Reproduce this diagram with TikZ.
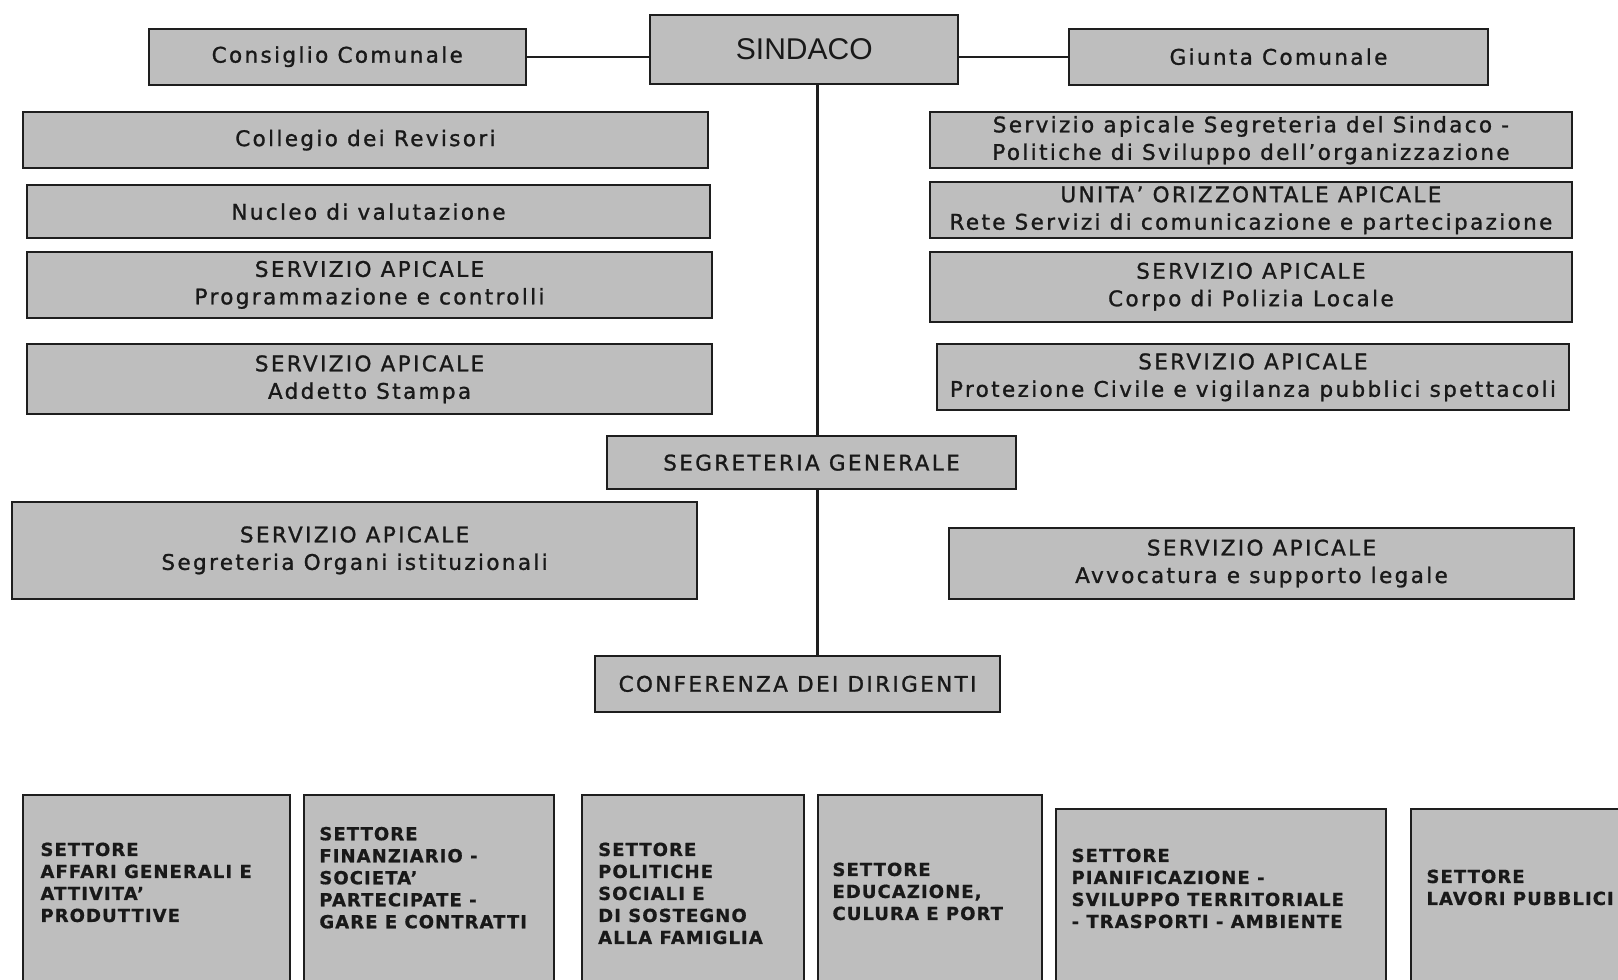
\documentclass[tikz,border=0pt]{standalone}
\usepackage{fontspec}
\newfontfamily\topf{DejaVu Sans}[LetterSpace=11, FakeBold=1.2]
\newfontfamily\botf{DejaVu Sans}[LetterSpace=6, FakeBold=0.8]
\newfontfamily\sindf{Liberation Sans}
\definecolor{boxfill}{RGB}{190,190,190}
\definecolor{boxline}{RGB}{30,30,30}
\definecolor{txt}{RGB}{25,25,25}
\begin{document}
\begin{tikzpicture}[x=1pt,y=-1pt,
  box/.style={draw=boxline, fill=boxfill, line width=2pt, inner sep=0pt, anchor=north west,
    align=center, text=txt, font=\topf\fontsize{21.5}{27.5}\selectfont},
  sbox/.style={draw=boxline, fill=boxfill, line width=2pt, inner sep=0pt, anchor=north west},
  stext/.style={inner sep=0pt, anchor=north west, align=left, text=txt,
    font=\botf\bfseries\fontsize{18}{22}\selectfont},
  conn/.style={draw=boxline, line width=2.2pt}]
\useasboundingbox (0,0) rectangle (1618,980);
\fill[white] (0,0) rectangle (1618,980);
\clip (0,0) rectangle (1618,980);

% top row
\node[box, minimum width=377.1pt, minimum height=56pt] (cons) at (147.7,27.7) {Consiglio Comunale};
\node[box, minimum width=308pt, minimum height=69.3pt, font=\sindf\fontsize{30}{34}\selectfont] (sind) at (649.3,14) {SINDACO};
\node[box, minimum width=419.4pt, minimum height=56pt] (giun) at (1067.8,27.7) {Giunta Comunale};

% left column
\node[box, minimum width=684.4pt, minimum height=55.7pt] (coll) at (22.2,111.3) {Collegio dei Revisori};
\node[box, minimum width=683.4pt, minimum height=52.7pt] (nucl) at (25.8,184.3) {Nucleo di valutazione};
\node[box, minimum width=685.5pt, minimum height=66.3pt] (prog) at (25.8,250.7) {SERVIZIO APICALE\\Programmazione e controlli};
\node[box, minimum width=685.5pt, minimum height=70pt] (adde) at (25.8,343.3) {SERVIZIO APICALE\\Addetto Stampa};

% right column
\node[box, minimum width=642pt, minimum height=55.7pt] (ssin) at (928.9,111.3) {Servizio apicale Segreteria del Sindaco -\\Politiche di Sviluppo dell’organizzazione};
\node[box, minimum width=642pt, minimum height=56.3pt] (unit) at (928.9,181) {UNITA’ ORIZZONTALE APICALE\\Rete Servizi di comunicazione e partecipazione};
\node[box, minimum width=642pt, minimum height=70pt] (poli) at (928.9,250.7) {SERVIZIO APICALE\\Corpo di Polizia Locale};
\node[box, minimum width=631.7pt, minimum height=66pt] (prot) at (936.1,343.3) {SERVIZIO APICALE\\Protezione Civile e vigilanza pubblici spettacoli};

% centre
\node[box, minimum width=409.2pt, minimum height=53.3pt] (segr) at (605.9,435) {SEGRETERIA GENERALE};
\node[box, minimum width=684.4pt, minimum height=96.7pt] (orga) at (11.4,501) {SERVIZIO APICALE\\Segreteria Organi istituzionali};
\node[box, minimum width=625pt, minimum height=70.4pt] (avvo) at (948,527.3) {SERVIZIO APICALE\\Avvocatura e supporto legale};
\node[box, minimum width=405.1pt, minimum height=55.7pt] (conf) at (594,655) {CONFERENZA DEI DIRIGENTI};

% connectors
\coordinate (spine) at (817.5,0);
\draw[conn] (cons.east) -- (cons.east -| sind.west);
\draw[conn] (giun.west) -- (giun.west -| sind.east);
\draw[conn] (sind.south -| spine) -- (segr.north -| spine);
\draw[conn] (segr.south -| spine) -- (conf.north -| spine);

% bottom sectors
\node[sbox, minimum width=267.1pt, minimum height=210pt] (s1) at (22.2,793.7) {};
\node[sbox, minimum width=250pt, minimum height=210pt] (s2) at (303.2,793.7) {};
\node[sbox, minimum width=222.2pt, minimum height=210pt] (s3) at (580.6,793.7) {};
\node[sbox, minimum width=223.7pt, minimum height=210pt] (s4) at (817.3,793.7) {};
\node[sbox, minimum width=330.1pt, minimum height=200pt] (s5) at (1054.9,807.7) {};
\node[sbox, minimum width=240pt, minimum height=200pt] (s6) at (1409.7,807.7) {};

\node[stext] (s1t) at (40.3,842.4) {SETTORE\\AFFARI GENERALI E\\ATTIVITA’\\PRODUTTIVE};
\node[stext] (s2t) at (319.2,826.7) {SETTORE\\FINANZIARIO -\\SOCIETA’\\PARTECIPATE -\\GARE E CONTRATTI};
\node[stext] (s3t) at (598,842.4) {SETTORE\\POLITICHE\\SOCIALI E\\DI SOSTEGNO\\ALLA FAMIGLIA};
\node[stext] (s4t) at (832.3,862.4) {SETTORE\\EDUCAZIONE,\\CULURA E PORT};
\node[stext] (s5t) at (1071.4,848.4) {SETTORE\\PIANIFICAZIONE -\\SVILUPPO TERRITORIALE\\- TRASPORTI - AMBIENTE};
\node[stext] (s6t) at (1426.3,869.4) {SETTORE\\LAVORI PUBBLICI};
\end{tikzpicture}
\end{document}
